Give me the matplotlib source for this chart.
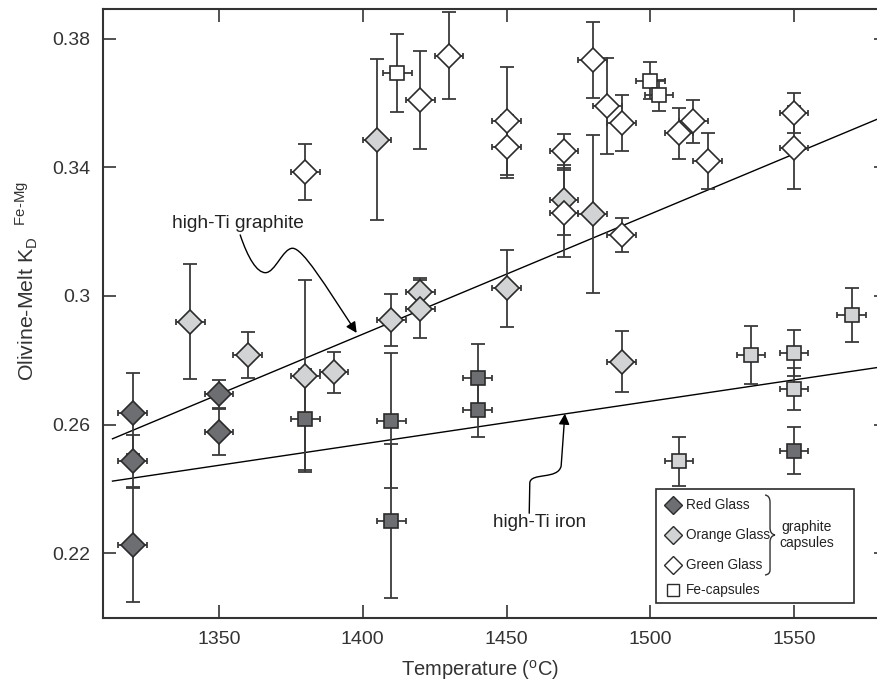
import numpy as np
import matplotlib
matplotlib.use('Agg')
import matplotlib.pyplot as plt
from matplotlib.path import Path
from matplotlib.patches import FancyArrowPatch, PathPatch, Rectangle

plt.rcParams['font.family'] = ['Liberation Sans', 'DejaVu Sans']
plt.rcParams['mathtext.fontset'] = 'custom'
plt.rcParams['mathtext.rm'] = 'Liberation Sans'

# --- data: temperature (C), Kd and 1-sigma Kd error ---
red_d_T = [1320, 1320, 1320, 1350, 1350]
red_d_K = [0.2635, 0.2486, 0.2225, 0.2694, 0.2578]
red_d_err = [0.0126, 0.0081, 0.0177, 0.0045, 0.0072]

orange_d_T = [1340, 1360, 1380, 1390, 1405, 1410, 1420, 1420, 1450, 1470, 1480, 1490]
orange_d_K = [0.2920, 0.2816, 0.2751, 0.2762, 0.3486, 0.2925, 0.3011, 0.2960, 0.3024, 0.3299, 0.3254, 0.2796]
orange_d_err = [0.0178, 0.0071, 0.0300, 0.0065, 0.0250, 0.0080, 0.0044, 0.0090, 0.0119, 0.0110, 0.0246, 0.0096]

green_d_T = [1380, 1420, 1430, 1450, 1450, 1470, 1470, 1480, 1485, 1490, 1490, 1510, 1515, 1520, 1550, 1550]
green_d_K = [0.3385, 0.3610, 0.3748, 0.3543, 0.3465, 0.3451, 0.3257, 0.3735, 0.3591, 0.3538, 0.3190,
             0.3506, 0.3543, 0.3420, 0.3569, 0.3462]
green_d_err = [0.0087, 0.0152, 0.0135, 0.0168, 0.0098, 0.0052, 0.0135, 0.0118, 0.0150, 0.0088, 0.0053,
               0.0079, 0.0066, 0.0087, 0.0063, 0.0130]

red_s_T = [1380, 1410, 1410, 1440, 1440, 1550]
red_s_K = [0.2616, 0.2612, 0.2300, 0.2744, 0.2645, 0.2518]
red_s_err = [0.0158, 0.0210, 0.0240, 0.0106, 0.0083, 0.0073]

orange_s_T = [1510, 1535, 1550, 1550, 1570]
orange_s_K = [0.2486, 0.2816, 0.2822, 0.2711, 0.2941]
orange_s_err = [0.0076, 0.0090, 0.0072, 0.0066, 0.0083]

green_s_T = [1412, 1500, 1503]
green_s_K = [0.3693, 0.3670, 0.3624]
green_s_err = [0.0122, 0.0057, 0.0047]

T_err = 5

# regression lines  K = a + b*T
graphite_ab = (-0.2355, 0.000374)
iron_ab = (0.0679, 0.0001329)

red_c = '#6d6e71'
orange_c = '#d1d3d4'
green_c = 'white'
edge_c = '#2b2b2b'
bar_c = '#3a3a3a'

fig = plt.figure(figsize=(8.77, 6.89), dpi=100)
ax = fig.add_axes([103/877, 71/689, 784/877, 609/689])

# lines
T_line = np.array([1313, 1585])
for a, b in (graphite_ab, iron_ab):
    ax.plot(T_line, a + b*T_line, color='black', lw=1.0, zorder=2)

series = [
    (red_d_T, red_d_K, red_d_err, 'D', 12.0, red_c),
    (orange_d_T, orange_d_K, orange_d_err, 'D', 12.0, orange_c),
    (green_d_T, green_d_K, green_d_err, 'D', 12.0, green_c),
    (red_s_T, red_s_K, red_s_err, 's', 10.5, red_c),
    (orange_s_T, orange_s_K, orange_s_err, 's', 10.5, orange_c),
    (green_s_T, green_s_K, green_s_err, 's', 10.5, green_c),
]
for T, K, err, m, ms, fc in series:
    ax.errorbar(T, K, yerr=err, fmt='none', ecolor=bar_c, elinewidth=1.3,
                capsize=5, capthick=1.3, zorder=3)
    ax.errorbar(T, K, xerr=T_err, fmt='none', ecolor=bar_c, elinewidth=1.3,
                capsize=2.5, capthick=1.3, zorder=3)
for T, K, err, m, ms, fc in series:
    ax.plot(T, K, linestyle='none', marker=m, ms=ms, mfc=fc, mec=edge_c,
            mew=1.2, zorder=4)

# annotations
ax.text(1333.6, 0.3227, 'high-Ti graphite', fontsize=13.8, color='#222222',
        ha='left', va='center')
ax.text(1445.3, 0.2296, 'high-Ti iron', fontsize=13.6, color='#222222',
        ha='left', va='center')

g_verts = [(1357.4, 0.3190), (1360.1, 0.3118), (1363.2, 0.30725), (1366.2, 0.30725),
           (1369.5, 0.30725), (1372.3, 0.31485), (1375.6, 0.31485),
           (1379.2, 0.31485), (1386.9, 0.3034), (1397.9, 0.2885)]
g_codes = [Path.MOVETO] + [Path.CURVE4] * 9
arr1 = FancyArrowPatch(path=Path(g_verts, g_codes), arrowstyle='-|>',
                       mutation_scale=16, color='black', lw=1.0, zorder=5)
ax.add_patch(arr1)

i_verts = [(1457.9, 0.2324), (1458.1, 0.2418), (1458.3, 0.2452), (1467.9, 0.2427),
           (1469.0, 0.2471), (1470.3, 0.2634)]
i_codes = [Path.MOVETO, Path.LINETO, Path.CURVE4, Path.CURVE4, Path.CURVE4, Path.LINETO]
arr2 = FancyArrowPatch(path=Path(i_verts, i_codes), arrowstyle='-|>',
                       mutation_scale=16, color='black', lw=1.0, zorder=5)
ax.add_patch(arr2)

# legend drawn by hand
ax.add_patch(Rectangle((0.705, 0.0241), 0.253, 0.1872, transform=ax.transAxes,
                       facecolor='white', edgecolor=edge_c, lw=1.2, zorder=6))
leg_rows = [('Red Glass', 'D', red_c, 9.5, 0.1856),
            ('Orange Glass', 'D', orange_c, 9.5, 0.1363),
            ('Green Glass', 'D', green_c, 9.5, 0.0870),
            ('Fe-capsules', 's', 'white', 8.0, 0.0460)]
for lab, m, fc, ms, yy in leg_rows:
    ax.plot([0.7274], [yy], marker=m, ms=ms, mfc=fc, mec=edge_c, mew=1.0,
            transform=ax.transAxes, zorder=7, clip_on=False)
    ax.text(0.7433, yy, lab, transform=ax.transAxes, fontsize=9.8,
            color='#222222', ha='left', va='center', zorder=7)

brace = Path([(0.8444, 0.2020), (0.8508, 0.2010), (0.8508, 0.1900),
              (0.8508, 0.1478), (0.8508, 0.1380), (0.8571, 0.1363),
              (0.8508, 0.1346), (0.8508, 0.1248), (0.8508, 0.0788),
              (0.8508, 0.0716), (0.8444, 0.0706)],
             [Path.MOVETO, Path.CURVE3, Path.CURVE3, Path.LINETO, Path.CURVE3,
              Path.CURVE3, Path.CURVE3, Path.CURVE3, Path.LINETO, Path.CURVE3,
              Path.CURVE3])
ax.add_patch(PathPatch(brace, transform=ax.transAxes, fill=False,
                       edgecolor='#333333', lw=1.0, zorder=7))
ax.text(0.898, 0.1363, 'graphite\ncapsules', transform=ax.transAxes,
        fontsize=10, color='#222222', ha='center', va='center',
        linespacing=1.1, zorder=7)

# axes styling
ax.set_xlim(1309.7, 1582.3)
ax.set_ylim(0.1998, 0.3893)
ax.set_xticks([1350, 1400, 1450, 1500, 1550])
ax.set_yticks([0.22, 0.26, 0.30, 0.34, 0.38])
ax.set_yticklabels(['0.22', '0.26', '0.3', '0.34', '0.38'])
ax.tick_params(direction='in', length=9.5, width=1.2, top=True, right=True,
               labelsize=14, colors='#333333', pad=9)
for sp in ax.spines.values():
    sp.set_linewidth(1.5)
    sp.set_color('#333333')

ax.set_xlabel(r'Temperature ($^{\mathregular{o}}$C)', fontsize=14.5, color='#333333')
ax.xaxis.set_label_coords(0.481, -0.065)
ax.set_ylabel(r'Olivine-Melt K$_{\mathregular{D}}$  $^{\mathregular{Fe{\text{-}}Mg}}$',
              fontsize=15.3, color='#333333')
ax.yaxis.set_label_coords(-0.080, 0.553)

fig.savefig('out.png', dpi=100)
